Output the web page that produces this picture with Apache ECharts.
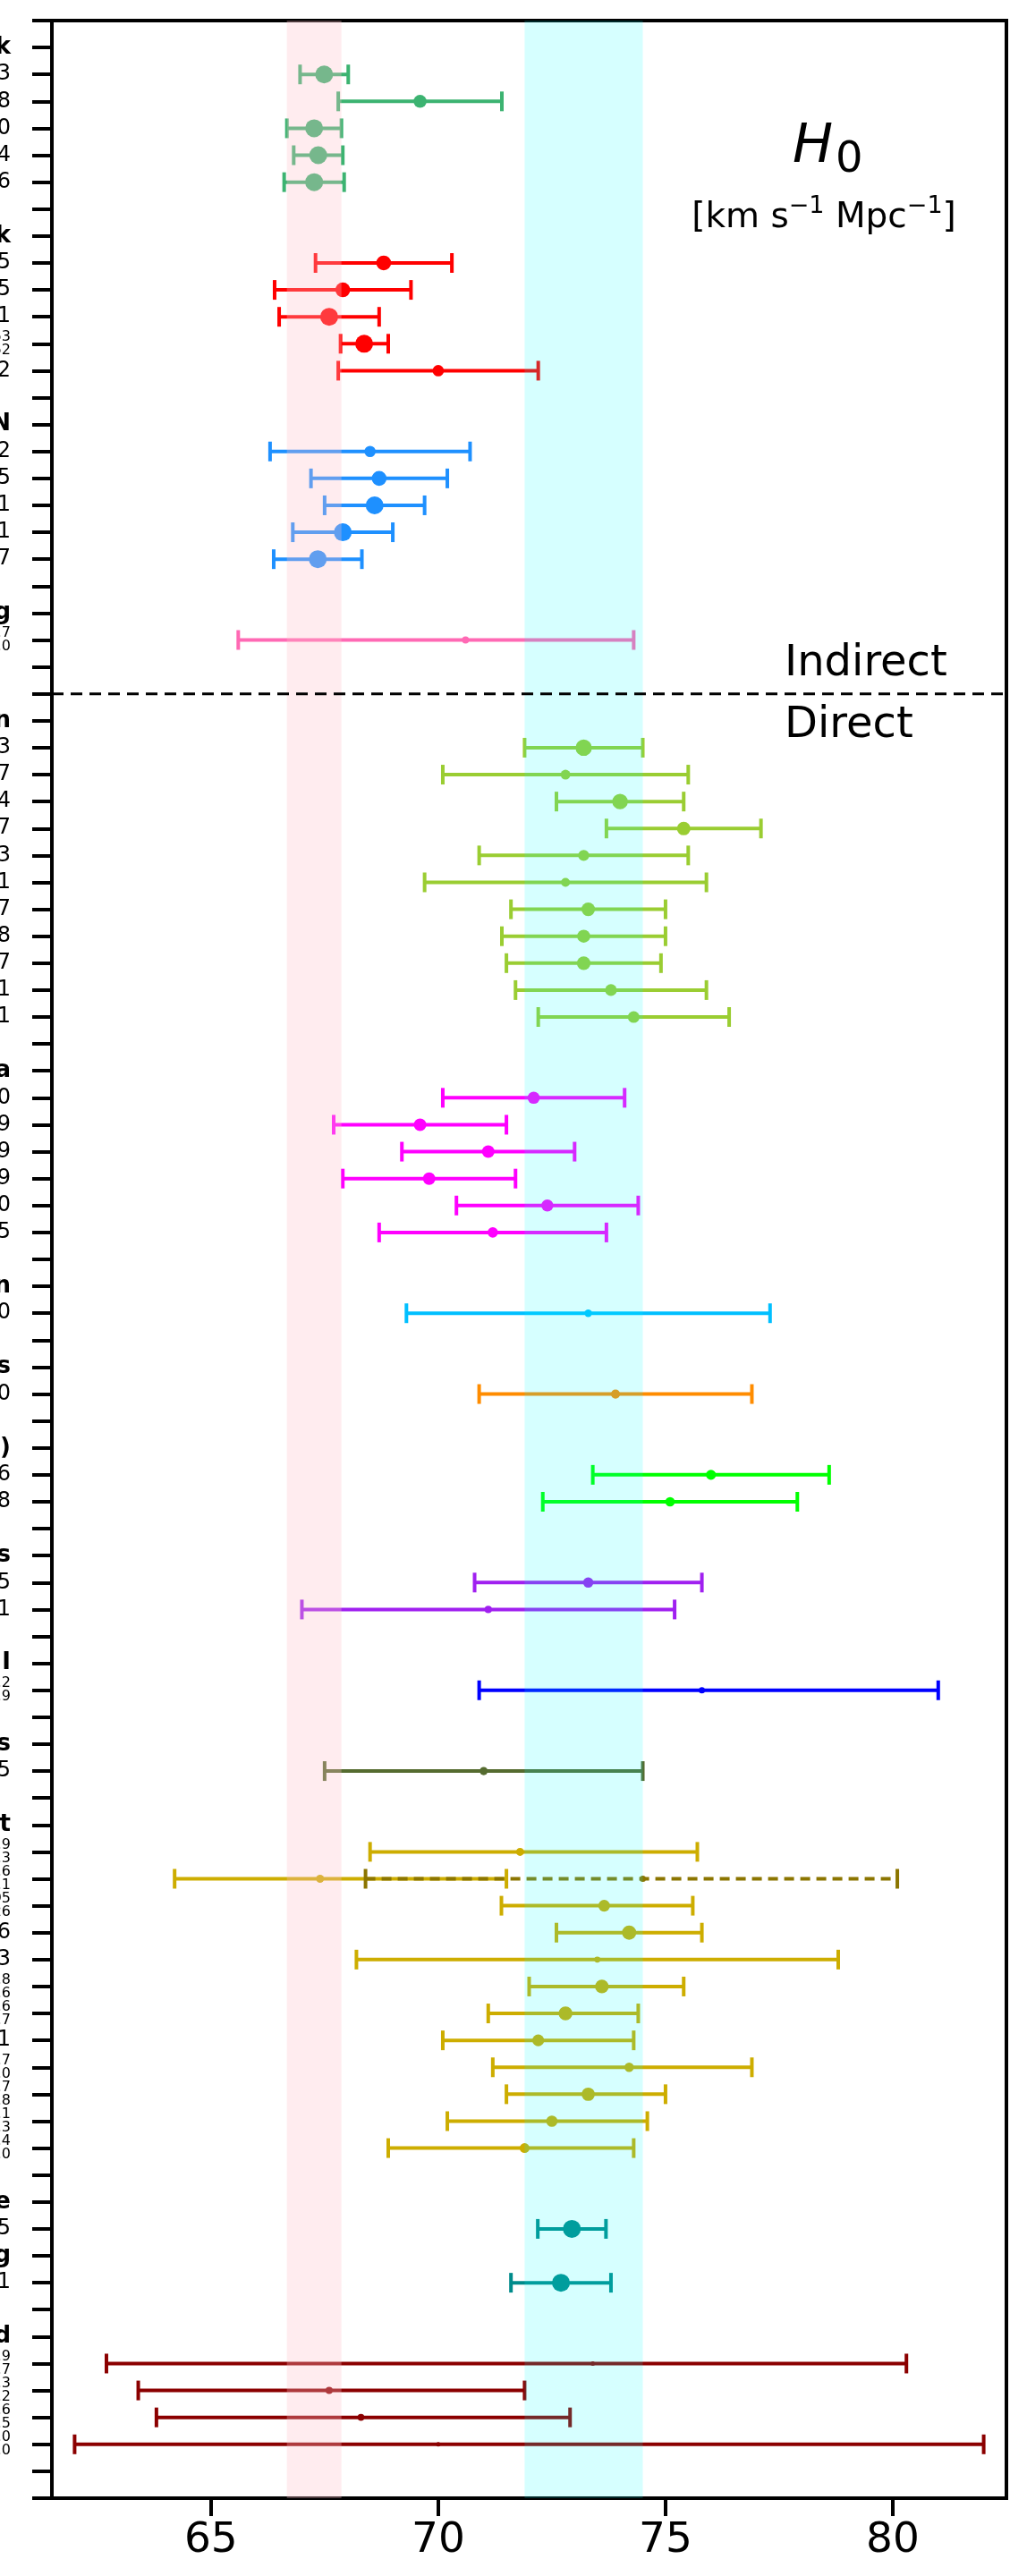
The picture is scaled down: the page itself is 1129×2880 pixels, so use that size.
<!DOCTYPE html>
<html>
<head>
<meta charset="utf-8">
<script src="https://cdn.jsdelivr.net/npm/echarts@6/dist/echarts.min.js"></script>
<style>
html,body{margin:0;padding:0;background:#fff;}
#chart{width:1129px;height:2880px;}
</style>
</head>
<body>
<div id="chart"></div>
<script>
// ---------------- DATA ----------------
// y-axis rows (0 = top). Header rows are group titles.
const rowLabels = [
  "CMB with Planck",
  "67.49 ± 0.53", "69.6 ± 1.8", "67.27 ± 0.60", "67.36 ± 0.54", "67.27 ± 0.66",
  "",
  "CMB without Planck",
  "68.8 ± 1.5", "67.9 ± 1.5", "67.6 ± 1.1", "68.37^{+0.53}_{−0.52}", "70.0 ± 2.2",
  "",
  "No CMB, with BBN",
  "68.5 ± 2.2", "68.7 ± 1.5", "68.6 ± 1.1", "67.9 ± 1.1", "67.35 ± 0.97",
  "",
  "Pk + CMB lensing",
  "70.6^{+3.7}_{−5.0}",
  "", "",
  "Cepheids – SNIa calibration",
  "73.2 ± 1.3", "72.8 ± 2.7", "74.0 ± 1.4", "75.4 ± 1.7", "73.2 ± 2.3", "72.8 ± 3.1",
  "73.3 ± 1.7", "73.2 ± 1.8", "73.2 ± 1.7", "73.8 ± 2.1", "74.3 ± 2.1",
  "",
  "TRGB – SNIa",
  "72.1 ± 2.0", "69.6 ± 1.9", "71.1 ± 1.9", "69.8 ± 1.9", "72.4 ± 2.0", "71.2 ± 2.5",
  "",
  "Miras – SNIa calibration",
  "73.3 ± 4.0",
  "",
  "Masers",
  "73.9 ± 3.0",
  "",
  "Tully Fisher Relation (TFR)",
  "76.0 ± 2.6", "75.1 ± 2.8",
  "",
  "Surface Brightness Fluctuations",
  "73.3 ± 2.5", "71.1 ± 4.1",
  "",
  "SNII",
  "75.8^{+5.2}_{−4.9}",
  "",
  "HII galaxies",
  "71.0 ± 3.5",
  "",
  "Lensing related, mass model-dependent",
  "71.8^{+3.9}_{−3.3}", "67.4^{+4.1}_{−3.2}, 74.5^{+5.6}_{−6.1}", "73.65^{+1.95}_{−2.26}",
  "74.2 ± 1.6", "73.5 ± 5.3", "73.6^{+1.8}_{−1.6}", "72.8^{+1.6}_{−1.7}", "72.2 ± 2.1",
  "74.2^{+2.7}_{−3.0}", "73.3^{+1.7}_{−1.8}", "72.5^{+2.1}_{−2.3}", "71.9^{+2.4}_{−3.0}",
  "",
  "Optimistic average",
  "72.94 ± 0.75",
  "Ultra-conservative, no Cepheids, no lensing",
  "72.7 ± 1.1",
  "",
  "GW related",
  "73.4^{+6.9}_{−10.7}", "67.6^{+4.3}_{−4.2}", "68.3^{+4.6}_{−4.5}", "70.0^{+12.0}_{−8.0}",
  ""
];
const headerRows = [0, 7, 14, 21, 25, 38, 46, 49, 52, 56, 60, 63, 66, 80, 82, 85];
const separatorRow = 24;          // Indirect / Direct boundary

// measurements: [row, H0, minus error, plus error]
const cmbWithPlanck = [[1, 67.49, 0.53, 0.53], [2, 69.6, 1.8, 1.8], [3, 67.27, 0.60, 0.60], [4, 67.36, 0.54, 0.54], [5, 67.27, 0.66, 0.66]];
const cmbWithoutPlanck = [[8, 68.8, 1.5, 1.5], [9, 67.9, 1.5, 1.5], [10, 67.6, 1.1, 1.1], [11, 68.37, 0.52, 0.53], [12, 70.0, 2.2, 2.2]];
const noCmbBbn = [[15, 68.5, 2.2, 2.2], [16, 68.7, 1.5, 1.5], [17, 68.6, 1.1, 1.1], [18, 67.9, 1.1, 1.1], [19, 67.35, 0.97, 0.97]];
const pkLensing = [[22, 70.6, 5.0, 3.7]];
const cepheids = [[26, 73.2, 1.3, 1.3], [27, 72.8, 2.7, 2.7], [28, 74.0, 1.4, 1.4], [29, 75.4, 1.7, 1.7], [30, 73.2, 2.3, 2.3], [31, 72.8, 3.1, 3.1], [32, 73.3, 1.7, 1.7], [33, 73.2, 1.8, 1.8], [34, 73.2, 1.7, 1.7], [35, 73.8, 2.1, 2.1], [36, 74.3, 2.1, 2.1]];
const trgb = [[39, 72.1, 2.0, 2.0], [40, 69.6, 1.9, 1.9], [41, 71.1, 1.9, 1.9], [42, 69.8, 1.9, 1.9], [43, 72.4, 2.0, 2.0], [44, 71.2, 2.5, 2.5]];
const miras = [[47, 73.3, 4.0, 4.0]];
const masers = [[50, 73.9, 3.0, 3.0]];
const tfr = [[53, 76.0, 2.6, 2.6], [54, 75.1, 2.8, 2.8]];
const sbf = [[57, 73.3, 2.5, 2.5], [58, 71.1, 4.1, 4.1]];
const snii = [[61, 75.8, 4.9, 5.2]];
const hii = [[64, 71.0, 3.5, 3.5]];
const lensing = [[67, 71.8, 3.3, 3.9], [68, 67.4, 3.2, 4.1], [69, 73.65, 2.26, 1.95], [70, 74.2, 1.6, 1.6], [71, 73.5, 5.3, 5.3], [72, 73.6, 1.6, 1.8], [73, 72.8, 1.7, 1.6], [74, 72.2, 2.1, 2.1], [75, 74.2, 3.0, 2.7], [76, 73.3, 1.8, 1.7], [77, 72.5, 2.3, 2.1], [78, 71.9, 3.0, 2.4]];
const lensingAlt = [[68, 74.5, 6.1, 5.6]];
const averages = [[81, 72.94, 0.75, 0.75], [83, 72.7, 1.1, 1.1]];
const gwRelated = [[86, 73.4, 10.7, 6.9], [87, 67.6, 4.2, 4.3], [88, 68.3, 4.5, 4.6], [89, 70.0, 8.0, 12.0]];

// reference bands: [centre, half-width]
const planckBand = [67.27, 0.60];
const sh0esBand = [73.2, 1.3];

const xTicks = [65, 70, 75, 80];

// ---------------- STYLE ----------------
const FONT = "DejaVu Sans";
const groups = [
  [cmbWithPlanck, '#3CB371', false],
  [cmbWithoutPlanck, '#FF0000', false],
  [noCmbBbn, '#1E90FF', false],
  [pkLensing, '#FF69B4', false],
  [cepheids, '#9ACD32', false],
  [trgb, '#FF00FF', false],
  [miras, '#00BFFF', false],
  [masers, '#FF8C00', false],
  [tfr, '#00FF00', false],
  [sbf, '#A020F0', false],
  [snii, '#0000FF', false],
  [hii, '#556B2F', false],
  [lensing, '#CDAD00', false],
  [lensingAlt, '#8B7500', true],
  [averages, '#008B8B', false],
  [gwRelated, '#8B0000', false]
];

function markerDiameter(err) {
  return Math.max(5, Math.min(20, 22 / Math.pow(err, 0.7)));
}

function makeRender(dashed) {
  return function (params, api) {
    const h0 = api.value(0), row = api.value(1), lo = api.value(2), hi = api.value(3);
    const c = api.coord([h0, row]);
    const a = api.coord([h0 - lo, row]);
    const b = api.coord([h0 + hi, row]);
    const color = api.visual('color');
    const d = dashed ? 7 : markerDiameter((lo + hi) / 2);
    const cap = 11;
    return {
      type: 'group',
      children: [
        { type: 'line', shape: { x1: a[0], y1: a[1], x2: b[0], y2: b[1] },
          style: { stroke: color, lineWidth: 4, lineDash: dashed ? [11, 7] : null } },
        { type: 'line', shape: { x1: a[0], y1: a[1] - cap, x2: a[0], y2: a[1] + cap }, style: { stroke: color, lineWidth: 4 } },
        { type: 'line', shape: { x1: b[0], y1: b[1] - cap, x2: b[0], y2: b[1] + cap }, style: { stroke: color, lineWidth: 4 } },
        { type: 'circle', shape: { cx: c[0], cy: c[1], r: d / 2 }, style: { fill: color } }
      ]
    };
  };
}

const series = groups.map(([arr, color, dashed]) => ({
  type: 'custom',
  renderItem: makeRender(dashed),
  data: arr.map(r => [r[1], r[0], r[2], r[3]]),
  encode: { x: 0, y: 1 },
  itemStyle: { color: color },
  z: 2,
  silent: true,
  clip: false
}));

// translucent reference bands drawn on top
function bandRender(color) {
  return function (params, api) {
    const lo = api.value(0), hi = api.value(1);
    const p1 = api.coord([lo, -1]);
    const p2 = api.coord([hi, 91]);
    return { type: 'rect', shape: { x: p1[0], y: p1[1], width: p2[0] - p1[0], height: p2[1] - p1[1] },
             style: { fill: color } };
  };
}
series.push({
  type: 'custom', z: 5, silent: true,
  renderItem: bandRender('rgba(255,192,203,0.3)'),
  data: [[planckBand[0] - planckBand[1], planckBand[0] + planckBand[1]]],
  encode: { x: [0, 1] }
});
series.push({
  type: 'custom', z: 5, silent: true,
  renderItem: bandRender('rgba(0,255,255,0.16)'),
  data: [[sh0esBand[0] - sh0esBand[1], sh0esBand[0] + sh0esBand[1]]],
  encode: { x: [0, 1] }
});
// dashed Indirect / Direct separator
series.push({
  type: 'custom', z: 6, silent: true,
  renderItem: function (params, api) {
    const row = api.value(0);
    const a = api.coord([61.5, row]);
    const b = api.coord([82.5, row]);
    return { type: 'line', shape: { x1: a[0], y1: a[1], x2: b[0], y2: b[1] },
             style: { stroke: '#000', lineWidth: 3, lineDash: [13, 8] } };
  },
  data: [[separatorRow]],
  encode: { y: 0 }
});

function formatLabel(v) {
  if (v < 0 || v >= rowLabels.length || Math.round(v) !== v) return '';
  const t = rowLabels[v];
  if (!t) return '';
  if (headerRows.indexOf(v) >= 0) return '{h|' + t + '}';
  const m = t.match(/^(.*)\^\{([^}]*)\}_\{([^}]*)\}$/);
  if (m) {
    const main = m[1].replace(/\^\{([^}]*)\}_\{([^}]*)\}/g, ' $1 $2');
    return '{mm|' + main + '}{s|' + m[2] + '}\n{s|' + m[3] + '}';
  }
  return '{m|' + t + '}';
}

const chart = echarts.init(document.getElementById('chart'), null, { renderer: 'canvas' });
chart.setOption({
  backgroundColor: '#fff',
  animation: false,
  grid: { left: 58, right: 4, top: 23, bottom: 87, containLabel: false, outerBoundsMode: 'none',
          show: true, borderColor: '#000', borderWidth: 4, backgroundColor: 'transparent' },
  xAxis: {
    type: 'value', min: 61.5, max: 82.5,
    axisLine: { show: true, onZero: false, lineStyle: { color: '#000', width: 4 } },
    axisTick: { show: true, length: 20, lineStyle: { color: '#000', width: 4 }, customValues: xTicks },
    axisLabel: { customValues: xTicks, fontSize: 47, fontFamily: FONT, color: '#000', margin: 24 },
    splitLine: { show: false }
  },
  yAxis: {
    type: 'value', min: -1, max: 91, interval: 1, inverse: true,
    axisLine: { show: true, onZero: false, lineStyle: { color: '#000', width: 4 } },
    axisTick: { show: true, length: 22, lineStyle: { color: '#000', width: 4 } },
    axisLabel: {
      formatter: formatLabel, margin: 46, color: '#000', align: 'right',
      showMinLabel: true, showMaxLabel: true,
      rich: {
        h: { fontFamily: FONT, fontSize: 26, fontWeight: 'bold', color: '#000' },
        m: { fontFamily: FONT, fontSize: 24, color: '#000' },
        mm: { fontFamily: FONT, fontSize: 24, color: '#000', lineHeight: 15 },
        s: { fontFamily: FONT, fontSize: 16, color: '#000', lineHeight: 15 }
      }
    },
    splitLine: { show: false }
  },
  graphic: [
    { type: 'text', x: 886, y: 165, z: 20,
      style: { text: 'H', font: 'italic 60px "DejaVu Sans"', fill: '#000', textAlign: 'left', textVerticalAlign: 'middle' } },
    { type: 'text', x: 934, y: 180, z: 20,
      style: { text: '0', font: '48px "DejaVu Sans"', fill: '#000', textAlign: 'left', textVerticalAlign: 'middle' } },
    { type: 'text', x: 921, y: 240, z: 20,
      style: {
        text: '{t|[km s}{u|−1}{t| Mpc}{u|−1}{t|]}',
        textAlign: 'center', textVerticalAlign: 'middle',
        rich: {
          t: { fontFamily: FONT, fontSize: 39, fill: '#000', lineHeight: 46, verticalAlign: 'bottom' },
          u: { fontFamily: FONT, fontSize: 27, fill: '#000', lineHeight: 46, verticalAlign: 'top' }
        }
      } },
    { type: 'text', x: 877, y: 743, z: 20,
      style: { text: 'Indirect', font: '48px "DejaVu Sans"', fill: '#000', textAlign: 'left', textVerticalAlign: 'middle' } },
    { type: 'text', x: 877, y: 812, z: 20,
      style: { text: 'Direct', font: '48px "DejaVu Sans"', fill: '#000', textAlign: 'left', textVerticalAlign: 'middle' } }
  ],
  series: series
});
</script>
</body>
</html>
